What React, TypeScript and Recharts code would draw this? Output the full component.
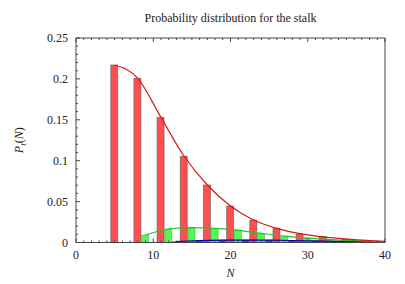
/**
 * Probability distribution for the stalk: histogram bars with fitted curves
 */
import {
  ComposedChart,
  Bar,
  Line,
  XAxis,
  YAxis,
  Label,
} from 'recharts';

// bar positions and heights
const redN = [5, 8, 11, 14, 17, 20, 23, 26, 29, 32, 35, 38];
const redP = [0.217, 0.2007, 0.153, 0.1054, 0.0703, 0.0446, 0.0275, 0.0173, 0.0104, 0.0071, 0.0042, 0.0022];

const greenN = [9, 12, 15, 18, 21, 24, 27, 30, 33, 36, 39];
const greenP = [0.0092, 0.0165, 0.0177, 0.0169, 0.015, 0.0106, 0.0071, 0.0051, 0.0036, 0.0022, 0.0012];

const blueN = [13, 16, 19, 22, 25, 28, 31, 34, 37];
const blueP = [0.0012, 0.0022, 0.0028, 0.003, 0.0028, 0.0024, 0.0019, 0.0014, 0.001];

// fitted curves
const redCurveN = [5, 8, 11, 14, 17, 20, 23, 26, 29, 32, 35, 38, 40];
const redCurveP = [0.217, 0.2007, 0.153, 0.1054, 0.0703, 0.0446, 0.0275, 0.0173, 0.0108, 0.0068, 0.0042, 0.0024, 0.0015];

const greenCurveN = [9, 12, 15, 18, 21, 24, 27, 30, 33, 36, 40];
const greenCurveP = [0.0092, 0.0165, 0.0182, 0.0173, 0.0148, 0.0112, 0.0078, 0.0053, 0.0035, 0.0022, 0.0011];

const blueCurveN = [13, 16, 19, 22, 25, 28, 31, 34, 37, 40];
const blueCurveP = [0.0012, 0.0022, 0.0028, 0.003, 0.0028, 0.0024, 0.0019, 0.0014, 0.001, 0.0007];

// axis ticks
const xLabelTicks = [0, 10, 20, 30, 40];
const yLabelTicks = [0, 0.05, 0.1, 0.15, 0.2, 0.25];
const xTicks = Array.from({ length: 41 }, (_, i) => i);
const yTicks = Array.from({ length: 26 }, (_, i) => i / 100);

const FONT = '"Liberation Serif", "Times New Roman", serif';
const FRAME = '#444';

const lookup = (ns: number[], ps: number[], n: number) => {
  const i = ns.indexOf(n);
  return i >= 0 ? ps[i] : null;
};

const data = xTicks.map((n) => ({
  N: n,
  red: lookup(redN, redP, n),
  green: lookup(greenN, greenP, n),
  blue: lookup(blueN, blueP, n),
  redFit: lookup(redCurveN, redCurveP, n),
  greenFit: lookup(greenCurveN, greenCurveP, n),
  blueFit: lookup(blueCurveN, blueCurveP, n),
}));

const isMajorX = (v: number) => xLabelTicks.includes(v);
const isMajorY = (v: number) => yLabelTicks.some((t) => Math.abs(t - v) < 1e-9);

function BottomTick({ x, y, payload }: any) {
  const major = isMajorX(payload.value);
  return (
    <g>
      <line x1={x} x2={x} y1={y} y2={y - (major ? 4 : 2)} stroke={FRAME} />
      {major && (
        <text x={x} y={y + 16.5} textAnchor="middle" fontSize={12} fontFamily={FONT} fill="#222">
          {payload.value}
        </text>
      )}
    </g>
  );
}

function TopTick({ x, y, payload }: any) {
  const major = isMajorX(payload.value);
  return <line x1={x} x2={x} y1={y} y2={y + (major ? 4 : 2)} stroke={FRAME} />;
}

function LeftTick({ x, y, payload }: any) {
  const major = isMajorY(payload.value);
  return (
    <g>
      <line x1={x} x2={x + (major ? 4 : 2)} y1={y} y2={y} stroke={FRAME} />
      {major && (
        <text x={x - 8} y={y + 4} textAnchor="end" fontSize={12} fontFamily={FONT} fill="#222">
          {String(Math.round(payload.value * 100) / 100)}
        </text>
      )}
    </g>
  );
}

function RightTick({ x, y, payload }: any) {
  const major = isMajorY(payload.value);
  return <line x1={x} x2={x - (major ? 4 : 2)} y1={y} y2={y} stroke={FRAME} />;
}

function YTitle({ viewBox }: any) {
  const cx = 23;
  const cy = viewBox ? viewBox.y + viewBox.height / 2 : 140;
  return (
    <text
      x={cx}
      y={cy}
      transform={`rotate(-90, ${cx}, ${cy})`}
      textAnchor="middle"
      fontSize={12}
      fontFamily={FONT}
      fill="#222"
    >
      <tspan fontStyle="italic">P</tspan>
      <tspan fontStyle="italic" fontSize={9} dy={3}>t</tspan>
      <tspan dy={-3}>(</tspan>
      <tspan fontStyle="italic">N</tspan>
      <tspan>)</tspan>
    </text>
  );
}

function XTitle({ viewBox }: any) {
  const cx = viewBox ? viewBox.x + viewBox.width / 2 : 230;
  const cy = viewBox ? viewBox.y + 34 : 276;
  return (
    <text x={cx} y={cy} textAnchor="middle" fontSize={12} fontFamily={FONT} fontStyle="italic" fill="#222">
      N
    </text>
  );
}

export default function App() {
  return (
    <div style={{ position: 'absolute', left: 0, top: 0, width: 405, height: 284, background: '#fff' }}>
      <div
        style={{
          position: 'absolute',
          left: 76,
          width: 309,
          top: 11,
          textAlign: 'center',
          fontFamily: FONT,
          fontSize: 12,
          lineHeight: '14px',
          color: '#222',
        }}
      >
        Probability distribution for the stalk
      </div>
      <ComposedChart
        width={405}
        height={284}
        data={data}
        margin={{ top: 36, right: 0, bottom: 0, left: 0 }}
        barGap={0}
        barCategoryGap={0}
      >
        <XAxis
          xAxisId="b"
          dataKey="N"
          type="number"
          domain={[0, 40]}
          ticks={xTicks}
          interval={0}
          tickSize={0}
          tickMargin={0}
          tickLine={false}
          tick={<BottomTick />}
          height={41.5}
          axisLine={{ stroke: FRAME }}
        >
          <Label content={<XTitle />} />
        </XAxis>
        <XAxis
          xAxisId="t"
          orientation="top"
          dataKey="N"
          type="number"
          domain={[0, 40]}
          ticks={xTicks}
          interval={0}
          tickSize={0}
          tickMargin={0}
          tickLine={false}
          tick={<TopTick />}
          height={2}
          axisLine={{ stroke: FRAME }}
        />
        <YAxis
          yAxisId="l"
          type="number"
          domain={[0, 0.25]}
          ticks={yTicks}
          interval={0}
          tickSize={0}
          tickMargin={0}
          tickLine={false}
          tick={<LeftTick />}
          width={76}
          axisLine={{ stroke: FRAME }}
        >
          <Label content={<YTitle />} />
        </YAxis>
        <YAxis
          yAxisId="r"
          orientation="right"
          type="number"
          domain={[0, 0.25]}
          ticks={yTicks}
          interval={0}
          tickSize={0}
          tickMargin={0}
          tickLine={false}
          tick={<RightTick />}
          width={20}
          axisLine={{ stroke: FRAME }}
        />
        <Bar xAxisId="b" yAxisId="l" dataKey="red" stackId="p" barSize={8} fill="#ff4f4f" stroke="#555" strokeOpacity={0.6} isAnimationActive={false} />
        <Bar xAxisId="b" yAxisId="l" dataKey="green" stackId="p" barSize={8} fill="#4cff4c" stroke="#777" strokeOpacity={0.5} isAnimationActive={false} />
        <Bar xAxisId="b" yAxisId="l" dataKey="blue" stackId="p" barSize={8} fill="#3434ff" stroke="#555" strokeOpacity={0.5} isAnimationActive={false} />
        <Line xAxisId="b" yAxisId="l" dataKey="blueFit" type="monotone" stroke="#0000b4" strokeWidth={1.2} dot={false} connectNulls isAnimationActive={false} />
        <Line xAxisId="b" yAxisId="l" dataKey="greenFit" type="monotone" stroke="#22c822" strokeWidth={1.2} dot={false} connectNulls isAnimationActive={false} />
        <Line xAxisId="b" yAxisId="l" dataKey="redFit" type="monotone" stroke="#dd1818" strokeWidth={1.2} dot={false} connectNulls isAnimationActive={false} />
      </ComposedChart>
    </div>
  );
}
